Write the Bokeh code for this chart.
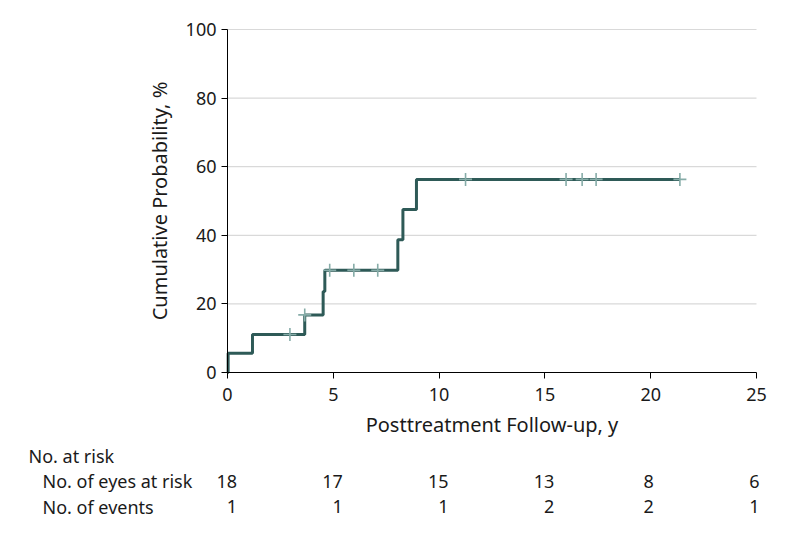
import numpy as np
from bokeh.plotting import figure
from bokeh.models import Range1d, ColumnDataSource, LinearAxis, FixedTicker
from bokeh.core.properties import value
from bokeh.embed import file_html
from bokeh.resources import INLINE

# ---- data ----
event_times = [0.0, 0.03, 1.18, 3.65, 4.52, 4.60, 8.05, 8.29, 8.93]
cum_prob = [0.0, 5.6, 11.1, 16.8, 23.6, 29.8, 38.7, 47.5, 56.3]
censor_times = [2.95, 3.65, 4.83, 5.97, 7.10, 11.25, 16.00, 16.76, 17.42, 21.38]

risk_times = [0, 5, 10, 15, 20, 25]
eyes_at_risk = [18, 17, 15, 13, 8, 6]
n_events = [1, 1, 1, 2, 2, 1]
header_label = "No. at risk"
row_labels = ["No. of eyes at risk", "No. of events"]

x_ticks = [0, 5, 10, 15, 20, 25]
y_ticks = [0, 20, 40, 60, 80, 100]

FONT = "Noto Sans"
FS = "18px"
TITLE_FS = "20px"
TXT = "#1a1a1a"
LINE_C = "#2e5a57"
CENS_C = "#86aca8"

# ---- layout geometry (pixels) ----
W, H = 794, 535
AX_LEFT, AX_RIGHT = 227, 756      # x=0 and x=25
AX_TOP, AX_BOTTOM = 29, 372       # y=100 and y=0
XMIN, XMAX = x_ticks[0], x_ticks[-1]
YMIN, YMAX = y_ticks[0], y_ticks[-1]
pxx = (AX_RIGHT - AX_LEFT) / (XMAX - XMIN)
pxy = (AX_BOTTOM - AX_TOP) / (YMAX - YMIN)

p = figure(width=W, height=H,
           x_range=Range1d(XMIN - AX_LEFT / pxx, XMAX + (W - AX_RIGHT) / pxx),
           y_range=Range1d(YMIN - (H - AX_BOTTOM) / pxy, YMAX + AX_TOP / pxy),
           output_backend="svg", toolbar_location=None,
           x_axis_location=None, y_axis_location=None,
           min_border=0, min_border_left=0, min_border_right=0,
           min_border_top=0, min_border_bottom=0)
p.outline_line_color = None
p.background_fill_color = "white"
p.border_fill_color = "white"
p.grid.visible = False

# horizontal grid lines over the plotting region
gy = [v for v in y_ticks if v > YMIN]
p.segment(x0=[XMIN] * len(gy), x1=[XMAX] * len(gy), y0=gy, y1=gy,
          line_color="#d9d9d9", line_width=1.2)

xaxis = LinearAxis(fixed_location=YMIN, bounds=(XMIN, XMAX),
                   ticker=FixedTicker(ticks=x_ticks),
                   axis_label="Posttreatment Follow-up, y")
yaxis = LinearAxis(fixed_location=XMIN, bounds=(YMIN, YMAX),
                   ticker=FixedTicker(ticks=y_ticks),
                   axis_label="Cumulative Probability, %")
for ax in (xaxis, yaxis):
    ax.axis_line_color = "black"
    ax.axis_line_width = 1
    ax.major_tick_line_color = "black"
    ax.major_tick_in = 0
    ax.major_tick_out = 6
    ax.minor_tick_line_color = None
    ax.major_label_text_font = FONT
    ax.major_label_text_font_size = FS
    ax.major_label_text_color = TXT
    ax.axis_label_text_font = FONT
    ax.axis_label_text_font_size = TITLE_FS
    ax.axis_label_text_font_style = "normal"
    ax.axis_label_text_color = TXT
xaxis.major_label_standoff = 9
yaxis.major_label_standoff = 5
xaxis.axis_label_standoff = 7
yaxis.axis_label_standoff = 10
p.add_layout(xaxis, "below")
p.add_layout(yaxis, "left")

# step curve extended to last censor
xs = list(event_times) + [censor_times[-1]]
ys = list(cum_prob) + [cum_prob[-1]]
p.step(x=xs, y=ys, mode="after", line_width=3, line_color=LINE_C)

# censor marks at curve height
idx = np.searchsorted(np.array(event_times), np.array(censor_times), side="right") - 1
cens_y = [cum_prob[i] for i in idx]
p.scatter(x=censor_times, y=cens_y, marker="cross", size=13, line_width=1.6,
          line_color=CENS_C)

# ---- risk table: rows on their own scale ----
ROW0_PY = 455     # canvas y of first table row
ROW_PX = 25.5
p.extra_y_ranges = {"table": Range1d(start=(H - ROW0_PY) / ROW_PX, end=(0 - ROW0_PY) / ROW_PX)}

txt_kw = dict(text_font=value(FONT), text_font_size=FS, text_color=TXT,
              text_baseline="middle", y_range_name="table")
p.text(x=[XMIN], y=[0], text=[header_label], x_offset=-199, text_align="left", **txt_kw)
p.text(x=[XMIN] * len(row_labels), y=list(range(1, len(row_labels) + 1)), text=row_labels,
       x_offset=-185, text_align="left", **txt_kw)

offs = [9.5 if len(str(e)) == 2 else 3 for e in eyes_at_risk]
src = ColumnDataSource(dict(
    x=risk_times + risk_times,
    y=[1] * len(risk_times) + [2] * len(risk_times),
    txt=[str(v) for v in eyes_at_risk] + [str(v) for v in n_events],
    off=offs + offs,
))
p.text(x="x", y="y", text="txt", x_offset="off", source=src, text_align="right", **txt_kw)

open("out.html", "w").write(file_html(p, INLINE))
